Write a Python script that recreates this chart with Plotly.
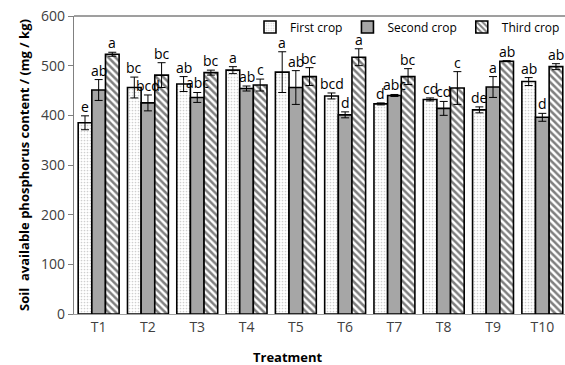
import plotly.graph_objects as go

treatments = ["T1", "T2", "T3", "T4", "T5", "T6", "T7", "T8", "T9", "T10"]
first_crop = [385, 456, 463, 491, 487, 439, 423, 432, 411, 468]
first_err = [14, 21, 15, 7, 41, 6, 2, 3, 6, 8]
second_crop = [451, 425, 436, 454, 456, 401, 440, 414, 457, 396]
second_err = [21, 16, 10, 5, 34, 6, 2, 14, 21, 8]
third_crop = [523, 481, 486, 461, 478, 517, 478, 455, 509, 498]
third_err = [4, 25, 5, 12, 18, 17, 16, 33, 1, 6]
first_letters = ["e", "bc", "ab", "a", "a", "bcd", "d", "cd", "de", "ab"]
second_letters = ["ab", "bcd", "abc", "ab", "ab", "d", "abc", "cd", "a", "d"]
third_letters = ["a", "bc", "bc", "c", "bc", "a", "bc", "c", "ab", "ab"]

FONT = "Open Sans"
xs = list(range(len(treatments)))
bargap = 0.17
w = (1 - bargap) / 3

fig = go.Figure()
series = [
    ("First crop", first_crop, first_err, first_letters,
     dict(color="white", pattern=dict(shape=".", size=3, solidity=0.25, fgcolor="#a0a0a0", bgcolor="white"))),
    ("Second crop", second_crop, second_err, second_letters,
     dict(color="#a6a6a6")),
    ("Third crop", third_crop, third_err, third_letters,
     dict(color="white", pattern=dict(shape="\\", size=5, solidity=0.5, fgcolor="black", bgcolor="white"))),
]
for k, (name, vals, errs, letters, mk) in enumerate(series):
    mk = dict(mk)
    mk["line"] = dict(color="black", width=1.6)
    fig.add_trace(go.Bar(
        x=xs, y=vals, name=name, marker=mk,
        error_y=dict(type="data", array=errs, visible=True, color="black", thickness=1, width=4),
    ))
    for i, (v, e, t) in enumerate(zip(vals, errs, letters)):
        fig.add_annotation(x=i + (k - 1) * w, y=v + e, text=t, showarrow=False,
                           yanchor="bottom", xanchor="center", yshift=-2,
                           font=dict(family=FONT, size=14, color="black"))

fig.add_annotation(xref="paper", yref="paper", x=(288 - 74) / (565 - 74), y=-43 / 298,
                   text="<b>Treatment</b>", showarrow=False, xanchor="center", yanchor="middle",
                   font=dict(family=FONT, size=13, color="black"))

fig.update_layout(
    width=565, height=365,
    margin=dict(l=74, r=0, t=16, b=51),
    paper_bgcolor="white", plot_bgcolor="white",
    barmode="group", bargap=bargap, bargroupgap=0,
    showlegend=True,
    legend=dict(orientation="h", x=1.0, xanchor="right", y=(314 - 27) / 298, yanchor="middle",
                font=dict(family=FONT, size=12, color="black"), bgcolor="rgba(0,0,0,0)",
                itemwidth=30, tracegroupgap=0),
    shapes=[dict(type="line", xref="paper", yref="paper", x0=0, x1=1, y0=1, y1=1,
                 line=dict(color="#404040", width=1.2))],
)
fig.update_xaxes(range=[-0.5, 9.46], tickvals=xs, ticktext=treatments, showgrid=False,
                 showline=True, linecolor="#a0a0a0", linewidth=1.2, ticks="",
                 tickfont=dict(family=FONT, size=14, color="#404040"))
fig.update_yaxes(range=[0, 600], dtick=100, showgrid=False, zeroline=False,
                 showline=True, linecolor="#808080", linewidth=1.2, ticks="outside", ticklen=5,
                 tickcolor="#808080",
                 tickfont=dict(family=FONT, size=14, color="#404040"),
                 title=dict(text="<b>Soil  available phosphorus content / (mg / kg)</b>",
                            font=dict(family=FONT, size=13, color="black"), standoff=8))

fig.write_html("out.html")
